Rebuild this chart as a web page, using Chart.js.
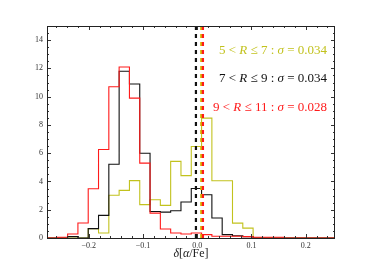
<!DOCTYPE html>
<html>
<head>
<meta charset="utf-8">
<script src="https://cdn.jsdelivr.net/npm/chart.js@4.4.0/dist/chart.umd.min.js"></script>
<style>
html,body{margin:0;padding:0;background:#fff;}
#wrap{width:372px;height:266px;}
</style>
</head>
<body>
<div id="wrap"><canvas id="c" width="372" height="266"></canvas></div>
<script>
// ---- data ----
const BIN_START = -0.277;
const BIN_WIDTH = 0.019;
const countsYellow = [0,0,0,0,0.66,0.35,3.02,3.37,4.06,2.36,2.71,2.31,5.42,4.41,6.47,8.48,4.05,4.05,1.05,0.7,0,0,0,0,0,0,0,0];
const countsBlack  = [0,0,0.1,0,0.66,1.6,5.22,11.8,10.9,6.0,1.88,1.83,1.93,2.55,3.5,3.06,1.41,0.24,0.16,0.1,0,0,0,0,0,0,0,0];
const countsRed    = [0,0.05,0.28,1.06,3.48,6.26,10.7,12.1,9.9,5.3,1.76,0.64,0.35,0.28,0.35,0.24,0.12,0.12,0.12,0.1,0.05,0.05,0.05,0,0,0,0,0];
const meanYellow = 0.0074;
const meanBlack = -0.0024;
const meanRed = 0.0105;
const seriesLabels = [
  ["5 < ", "R", " ≤ 7 : ", "σ", " = 0.034"],
  ["7 < ", "R", " ≤ 9 : ", "σ", " = 0.034"],
  ["9 < ", "R", " ≤ 11 : ", "σ", " = 0.028"]
];
const xTicks = [-0.2, -0.1, 0.0, 0.1, 0.2];
const yTicks = [0, 2, 4, 6, 8, 10, 12, 14];
const X_MIN = -0.277, X_MAX = 0.254, Y_MIN = 0, Y_MAX = 15;

const YELLOW = '#c2c21e';
const RED = '#ff1a1a';
const BLACK = '#111111';

function histPoints(counts){
  const pts = [{x: BIN_START, y: 0}];
  counts.forEach((c, k) => pts.push({x: BIN_START + k*BIN_WIDTH, y: c}));
  const end = BIN_START + counts.length*BIN_WIDTH;
  pts.push({x: end, y: counts[counts.length-1]});
  pts.push({x: end, y: 0});
  return pts;
}
function meanLine(m){ return [{x: m, y: Y_MIN}, {x: m, y: Y_MAX}]; }

const SERIF = '"Liberation Serif", "DejaVu Serif", serif';

const decor = {
  id: 'decor',
  afterDatasetsDraw(chart){
    const ctx = chart.ctx, a = chart.chartArea;
    const xs = chart.scales.x, ys = chart.scales.y;
    ctx.save();
    ctx.strokeStyle = '#333';
    ctx.lineWidth = 1;
    // ticks (inward, all sides)
    ctx.beginPath();
    for (let v = -0.26; v <= X_MAX + 1e-9; v += 0.02) {
      const px = Math.round(xs.getPixelForValue(v)) + 0.5;
      const major = xTicks.some(t => Math.abs(t - v) < 1e-6);
      const L = major ? 4 : 2;
      ctx.moveTo(px, a.bottom); ctx.lineTo(px, a.bottom - L);
      ctx.moveTo(px, a.top); ctx.lineTo(px, a.top + L);
    }
    for (let v = 0; v <= Y_MAX + 1e-9; v += 0.5) {
      const py = Math.round(ys.getPixelForValue(v)) + 0.5;
      const major = yTicks.includes(v);
      const L = major ? 4 : 2;
      ctx.moveTo(a.left, py); ctx.lineTo(a.left + L, py);
      ctx.moveTo(a.right, py); ctx.lineTo(a.right - L, py);
    }
    ctx.stroke();
    // frame
    ctx.strokeStyle = '#222';
    ctx.strokeRect(Math.round(a.left)+0.5, Math.round(a.top)+0.5, Math.round(a.right-a.left)-1, Math.round(a.bottom-a.top));
    // legend texts
    const colors = [YELLOW, BLACK, RED];
    const ycent = [51, 79, 107.5];
    const size = 13;
    seriesLabels.forEach((segs, i) => {
      const fonts = segs.map((s, j) => (j === 1 || j === 3) ? `italic ${size}px ${SERIF}` : `${size}px ${SERIF}`);
      let w = 0;
      segs.forEach((s, j) => { ctx.font = fonts[j]; w += ctx.measureText(s).width; });
      let x = 327 - w;
      ctx.fillStyle = colors[i];
      ctx.textBaseline = 'middle';
      ctx.textAlign = 'left';
      segs.forEach((s, j) => { ctx.font = fonts[j]; ctx.fillText(s, x, ycent[i]); x += ctx.measureText(s).width; });
    });
    // x axis title
    const tsegs = ["δ", "[", "α", "/Fe]"];
    const tf = tsegs.map((s, j) => (j === 0 || j === 2) ? `italic 12px ${SERIF}` : `12px ${SERIF}`);
    let tw = 0;
    tsegs.forEach((s, j) => { ctx.font = tf[j]; tw += ctx.measureText(s).width; });
    let tx = (a.left + a.right)/2 - tw/2;
    ctx.fillStyle = '#222';
    ctx.textBaseline = 'middle';
    tsegs.forEach((s, j) => { ctx.font = tf[j]; ctx.fillText(s, tx, 254); tx += ctx.measureText(s).width; });
    ctx.restore();
  }
};

const commonLine = {showLine: true, pointRadius: 0, tension: 0, fill: false};

new Chart(document.getElementById('c'), {
  type: 'scatter',
  data: {
    datasets: [
      Object.assign({label: 'mean 9<R≤11', data: meanLine(meanRed), borderColor: RED, borderWidth: 2.2, borderDash: [4, 4]}, commonLine),
      Object.assign({label: 'mean 5<R≤7', data: meanLine(meanYellow), borderColor: '#d4b400', borderWidth: 2.2, borderDash: [4, 4]}, commonLine),
      Object.assign({label: 'mean 7<R≤9', data: meanLine(meanBlack), borderColor: BLACK, borderWidth: 2.2, borderDash: [4, 4]}, commonLine),
      Object.assign({label: '9<R≤11', data: histPoints(countsRed), borderColor: RED, borderWidth: 1.1, stepped: true}, commonLine),
      Object.assign({label: '7<R≤9', data: histPoints(countsBlack), borderColor: BLACK, borderWidth: 1.1, stepped: true}, commonLine),
      Object.assign({label: '5<R≤7', data: histPoints(countsYellow), borderColor: YELLOW, borderWidth: 1.1, stepped: true}, commonLine)
    ]
  },
  options: {
    responsive: false,
    devicePixelRatio: 1,
    animation: false,
    layout: {padding: {top: 26, right: 37, left: 0, bottom: 0}},
    plugins: {legend: {display: false}, tooltip: {enabled: false}},
    scales: {
      x: {
        type: 'linear', min: X_MIN, max: X_MAX,
        grid: {display: false, drawTicks: false},
        border: {display: false},
        afterBuildTicks(s){ s.ticks = xTicks.map(v => ({value: v})); },
        afterFit(s){ s.height = 28; },
        ticks: {
          padding: 3, color: '#333', maxRotation: 0, autoSkip: false,
          font: {family: SERIF, size: 8},
          callback: v => (v < 0 ? '\u2212' : '') + Math.abs(v).toFixed(1)
        }
      },
      y: {
        type: 'linear', min: Y_MIN, max: Y_MAX,
        grid: {display: false, drawTicks: false},
        border: {display: false},
        afterBuildTicks(s){ s.ticks = yTicks.map(v => ({value: v})); },
        afterFit(s){ s.width = 47; },
        ticks: {padding: 4, color: '#333', font: {family: SERIF, size: 8}}
      }
    }
  },
  plugins: [decor]
});
</script>
</body>
</html>
